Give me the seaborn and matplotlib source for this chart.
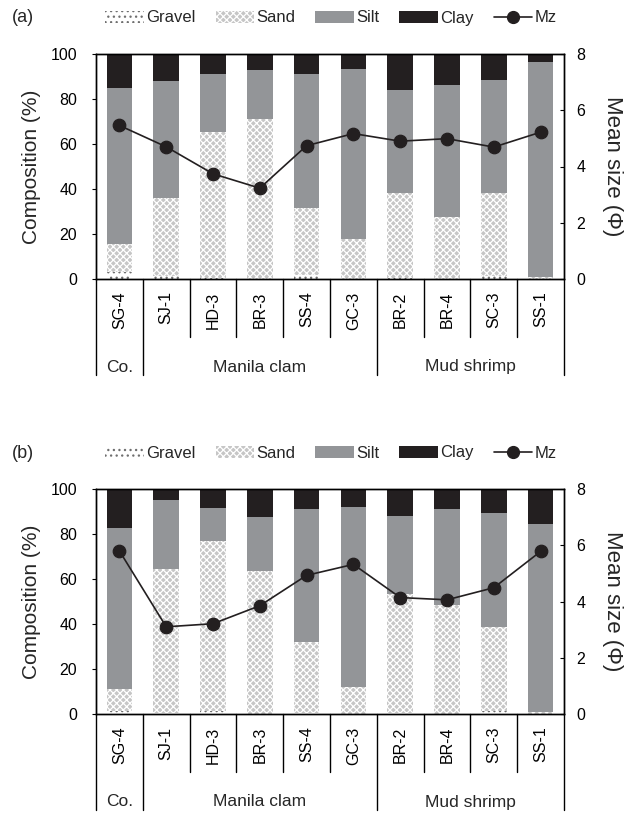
import numpy as np
import pandas as pd
import matplotlib
matplotlib.use('Agg')
import matplotlib.pyplot as plt
import matplotlib.transforms as mtransforms
from matplotlib.patches import Patch
from matplotlib.lines import Line2D
import seaborn as sns

sns.set_theme(style='white')
plt.rcParams['font.family'] = ['Liberation Sans', 'DejaVu Sans']
plt.rcParams['hatch.linewidth'] = 0.9

# ---------------- data ----------------
sites = ['SG-4', 'SJ-1', 'HD-3', 'BR-3', 'SS-4', 'GC-3', 'BR-2', 'BR-4', 'SC-3', 'SS-1']
groups = ['Co.', 'Manila clam', 'Mud shrimp']
group_sizes = [1, 5, 4]
left_ticks = [0, 20, 40, 60, 80, 100]
right_ticks = [0, 2, 4, 6, 8]
legend_labels = ['Gravel', 'Sand', 'Silt', 'Clay', 'Mz']

# panel (a)  composition (%)
gravel_a = [3.0, 1.2, 0.4, 0.2, 1.8, 0.2, 0.5, 0.2, 1.3, 0.1]
sand_a   = [12.5, 35.0, 65.1, 70.8, 29.9, 17.7, 37.8, 27.3, 37.0, 0.8]
silt_a   = [69.3, 52.0, 25.5, 22.0, 59.4, 75.6, 45.9, 58.9, 50.3, 95.7]
clay_a   = [15.2, 11.8, 9.0, 7.0, 8.9, 6.5, 15.8, 13.6, 11.4, 3.4]
mz_a     = [5.46, 4.70, 3.74, 3.23, 4.74, 5.17, 4.90, 4.99, 4.69, 5.22]

# panel (b)
gravel_b = [1.5, 0.5, 1.5, 0.2, 0.4, 0.2, 0.5, 0.2, 1.5, 0.1]
sand_b   = [9.5, 64.1, 75.4, 63.2, 31.7, 11.6, 52.8, 48.1, 37.2, 0.8]
silt_b   = [71.7, 30.4, 14.5, 24.2, 59.2, 80.2, 34.7, 43.0, 50.8, 83.7]
clay_b   = [17.3, 5.0, 8.6, 12.4, 8.7, 8.0, 12.0, 8.7, 10.5, 15.4]
mz_b     = [5.80, 3.10, 3.21, 3.85, 4.93, 5.32, 4.14, 4.06, 4.49, 5.78]

# ---------------- styles ----------------
CLAY = '#231f20'
SILT = '#939598'
SAND = '#c6c6c6'
GRAVEL_DOT = '#6f6f6f'
FS_TICK = 11.5
FS_LEG = 12
FS_GROUP = 12.5
FS_TITLE_L = 15
FS_TITLE_R = 16

W, H = 624, 816
fig = plt.figure(figsize=(W / 100, H / 100), dpi=100)


def fx(px):
    return px / W


def fy(py):
    return 1 - py / H


def draw_panel(top_px, gravel, sand, silt, clay, mz, tag):
    bottom_px = top_px + 225
    ax = fig.add_axes([fx(96), fy(bottom_px), fx(564) - fx(96), (bottom_px - top_px) / H])
    df = pd.DataFrame({'site': sites, 'gravel': gravel, 'sand': sand,
                       'silt': silt, 'clay': clay})
    df['c_gravel'] = df['gravel']
    df['c_sand'] = df['c_gravel'] + df['sand']
    df['c_silt'] = df['c_sand'] + df['silt']
    df['c_clay'] = df['c_silt'] + df['clay']
    layers = [('c_clay', CLAY, None, None),
              ('c_silt', SILT, None, None),
              ('c_sand', SAND, 'xxxxx', 'white'),
              ('c_gravel', 'white', '...', GRAVEL_DOT)]
    for col, fc, hatch, hc in layers:
        n0 = len(ax.patches)
        sns.barplot(data=df, x='site', y=col, ax=ax, color=fc, saturation=1,
                    width=0.55, errorbar=None)
        for p in ax.patches[n0:]:
            p.set_facecolor(fc)
            p.set_linewidth(0)
            if hatch:
                p.set_hatch(hatch)
                p.set_edgecolor(hc)

    ax2 = ax.twinx()
    sns.pointplot(x=sites, y=mz, ax=ax2, color=CLAY, markers='o',
                  markersize=9, linewidth=1.2, errorbar=None)

    ax.set_ylim(0, 100)
    ax2.set_ylim(0, 8)
    ax.set_yticks(left_ticks)
    ax2.set_yticks(right_ticks)
    ax.set_xlim(-0.5, len(sites) - 0.5)
    ax.set_xticks(range(len(sites)))
    ax.set_xticklabels(sites, rotation=90)
    ax.set_xlabel('')
    ax.set_ylabel('')
    ax2.set_ylabel('')
    ax.tick_params(axis='x', length=0, pad=9, labelsize=FS_TICK, colors='black')
    ax.tick_params(axis='y', direction='out', length=3, width=0.8, pad=10.5,
                   labelsize=FS_TICK, left=True, colors='black')
    ax2.tick_params(axis='y', direction='in', length=3, width=0.8, pad=9,
                    labelsize=FS_TICK, right=True, colors='black')
    for a in (ax, ax2):
        for s in a.spines.values():
            s.set_color('black')
            s.set_linewidth(1.0)
        a.grid(False)

    # separators below the axis
    trans = mtransforms.blended_transform_factory(ax.transData, ax.transAxes)
    bounds = list(np.cumsum([0] + group_sizes) - 0.5)
    for i in range(len(sites) + 1):
        xb = i - 0.5
        y_end = -96 / 225 if xb in bounds else -58 / 225
        ax.add_line(Line2D([xb, xb], [0, y_end], transform=trans, color='black',
                           lw=1.0, clip_on=False))
    for g, lo, hi in zip(groups, bounds[:-1], bounds[1:]):
        ax.text((lo + hi) / 2, -88 / 225, g, transform=trans, ha='center',
                va='center', fontsize=FS_GROUP)

    # axis titles
    mid = fy((top_px + bottom_px) / 2)
    fig.text(fx(32), mid, 'Composition (%)', rotation=90, ha='center', va='center',
             fontsize=FS_TITLE_L)
    fig.text(fx(612), mid, 'Mean size (Φ)', rotation=270, ha='center', va='center',
             fontsize=FS_TITLE_R)

    # panel tag and legend
    ly = top_px - 36
    fig.text(fx(12), fy(ly), tag, ha='left', va='center', fontsize=13)
    handles = [Patch(facecolor='white', hatch='...', edgecolor=GRAVEL_DOT, lw=0),
               Patch(facecolor=SAND, hatch='xxxxx', edgecolor='white', lw=0),
               Patch(facecolor=SILT, lw=0),
               Patch(facecolor=CLAY, lw=0),
               Line2D([], [], color=CLAY, marker='o', markersize=8.5, lw=1.2)]
    fig.legend(handles, legend_labels, loc='center', bbox_to_anchor=(fx(331), fy(ly)),
               ncol=5, frameon=False, fontsize=FS_LEG, handlelength=2.3,
               handleheight=0.75, handletextpad=0.15, columnspacing=1.2,
               borderpad=0, borderaxespad=0)
    return ax


draw_panel(54, gravel_a, sand_a, silt_a, clay_a, mz_a, '(a)')
draw_panel(489, gravel_b, sand_b, silt_b, clay_b, mz_b, '(b)')

fig.savefig('out.png', dpi=100)
